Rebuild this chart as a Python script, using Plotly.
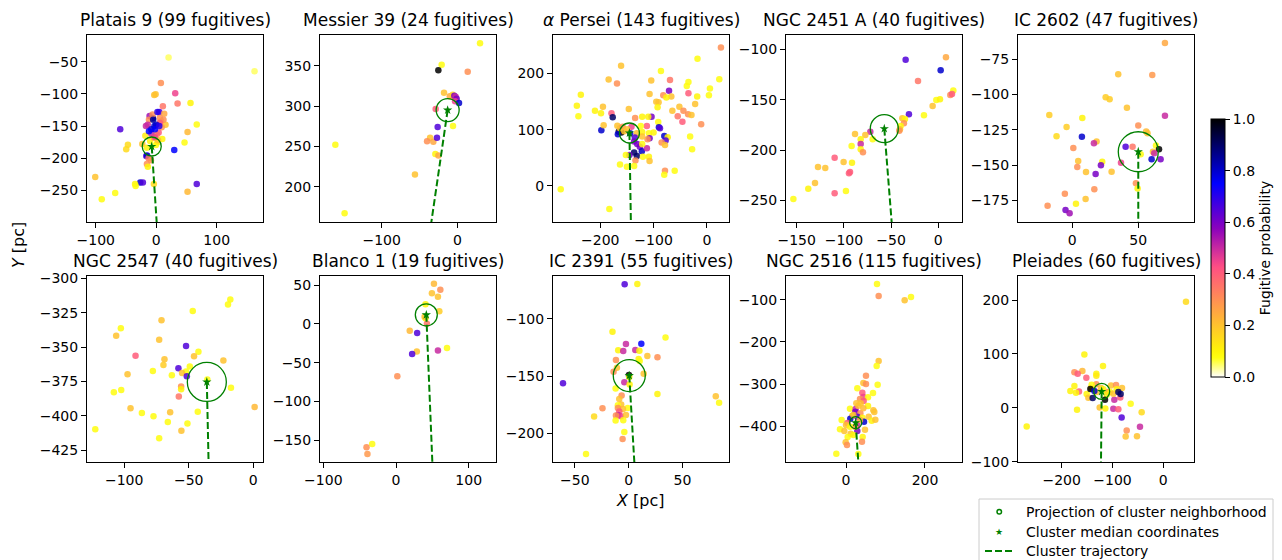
import numpy as np
import plotly.graph_objects as go

# ---------------- data ----------------
CLUSTERS = ["Platais 9", "Messier 39", "<i>α</i> Persei", "NGC 2451 A", "IC 2602",
            "NGC 2547", "Blanco 1", "IC 2391", "NGC 2516", "Pleiades"]
N_FUGITIVES = [99, 24, 143, 40, 47, 40, 19, 55, 115, 60]
MEDIAN_X = [-7.4, -12.8, -145.3, -57.2, 50.0, -36.0, 41.7, 0.6, 24.5, -121.3]
MEDIAN_Y = [-181.7, 295.0, 94.0, -178.8, -140.6, -375.3, 11.6, -149.5, -392.0, 30.3]
TRAJ_END_X = [1.5, -35.3, -142.5, -48.7, 50.0, -34.5, 50.3, 5.6, 31.5, -122.7]
TRAJ_END_Y = [-310, 150, -70, -280, -200, -440, -185, -230, -490, -105]
X_RANGES = [(-114.4, 176.5), (-181.5, 51.1), (-288.7, 41.5), (-161.3, 25.1), (-41.1, 92.2),
            (-128.8, 7.5), (-104.6, 137.6), (-70.3, 93.3), (-151.9, 293.7), (-286.0, 60.4)]
Y_RANGES = [(-299.0, -8.5), (156.3, 388.0), (-64.0, 268.0), (-271.5, -85.8), (-190.4, -57.8),
            (-433.5, -298.3), (-178.0, 61.6), (-225.1, -62.4), (-485.7, -42.9), (-100.6, 244.6)]
X_DTICK = [100, 100, 100, 50, 50, 50, 100, 50, 200, 100]
Y_DTICK = [50, 50, 100, 50, 25, 25, 50, 50, 100, 100]

# fugitives: (x, y, probability)
PLATAIS9 = [
    (20.4, -43.3, 0.05), (162.5, -65, 0.05), (7.7, -83, 0.3), (31.4, -99, 0.45), (-3.3, -101.8, 0.2),
    (-1, -100.5, 0.2), (35.3, -115, 0.35), (56.7, -114, 0.1), (11, -119, 0.35), (5, -128, 0.65),
    (13.2, -131, 0.25), (-11, -134.5, 0.55), (-5.5, -138, 0.85), (-59.5, -155, 0.65), (-17, -150, 0.5),
    (15.4, -148, 0.2), (67, -147.4, 0.08), (51.8, -159.3, 0.22), (46.8, -175.4, 0.08), (-46.8, -179, 0.15),
    (-49.6, -186, 0.15), (29.8, -187.3, 0.75), (-23, -178, 0.2), (-15.4, -183.7, 0.1), (-0.5, -179.5, 0.08),
    (-16.5, -196.6, 0.65), (-15, -195.6, 0.8), (-12.7, -200, 0.35), (-8.8, -203, 0.3), (-15.4, -209, 0.3),
    (-13.8, -213, 0.1), (-100.8, -229, 0.2), (-26.4, -237.6, 0.8), (-22, -237.6, 0.65), (-3.9, -240, 0.15),
    (-35, -240, 0.1), (-34, -243, 0.08), (-67.8, -254, 0.08), (-90, -263.5, 0.08), (51.8, -252, 0.22),
    (67, -240, 0.65), (-10, -173, 0.1), (2, -175, 0.1), (-18, -165, 0.12), (10, -170, 0.1),
    (6, -137, 0.3), (9, -152, 0.28), (-4, -168, 0.25), (3, -172, 0.2), (-12, -140, 0.3),
    (8, -142, 0.25), (-6, -132, 0.3), (1, -163, 0.25), (12, -140, 0.3), (-14, -148, 0.5),
    (-8, -162, 0.5), (-2, -167, 0.45), (4, -160, 0.4), (6, -145, 0.4), (-5, -140, 0.85),
    (-3, -150, 0.8), (-8, -155, 0.8), (0, -148, 0.8), (2, -128, 0.7), (-12, -158, 0.75),
    (-2, -155, 0.75), (5, -150, 0.7),
]
MESSIER39 = [
    (30, 377.7, 0.08), (-20.7, 351.2, 0.08), (-25.1, 344.2, 1.0), (13.7, 342.6, 0.3), (-17.6, 316.5, 0.2),
    (-5.3, 311.6, 0.2), (-10, 312, 0.25), (-6, 314, 0.15), (-4, 312.8, 0.6), (-2.2, 311.6, 0.5),
    (-0.9, 309, 0.6), (-3, 306, 0.45), (2.2, 303.7, 0.8), (-28.6, 296.3, 0.4), (-5.7, 275.2, 0.08),
    (-26, 274, 0.65), (-36, 260.7, 0.2), (-31.7, 255.8, 0.25), (-40, 256.2, 0.3), (-26.9, 260.7, 0.65),
    (-29, 240.5, 0.1), (-25, 238.8, 0.25), (-56, 215, 0.2), (-161.2, 252, 0.08), (-149, 167, 0.08),
]
ALPHA_PERSEI = [
    (26.4, 246, 0.3), (-17.6, 226, 0.08), (-161, 213.6, 0.2), (-86.2, 204, 0.08), (-184.3, 188.8, 0.2),
    (-168.6, 181.7, 0.3), (-104.4, 187, 0.2), (-69.2, 188, 0.35), (-34.6, 184.6, 0.08), (23.3, 189.3, 0.08),
    (-236.5, 162, 0.1), (5.7, 172.8, 0.08), (-37.7, 177.5, 0.08), (-71, 169, 0.6), (-81.8, 161, 0.3),
    (-66.7, 158.6, 0.2), (-76, 157, 0.1), (-107.5, 163.3, 0.2), (-94.9, 149.7, 0.2), (-90.6, 148.5, 0.2),
    (-92.5, 139.6, 0.1), (-34.6, 164.5, 0.4), (-18.2, 158.6, 0.1), (3.8, 161, 0.08), (-22, 145.6, 0.2),
    (-51.6, 140.8, 0.2), (-64.8, 133.7, 0.2), (-44, 133.7, 0.3), (-35.2, 127.2, 0.3), (-28.9, 126, 0.2),
    (-54.7, 123.7, 0.35), (-45.9, 114.2, 0.4), (-10.7, 109.5, 0.3), (-244, 142.6, 0.1), (-241, 123.7, 0.08),
    (-210, 133.7, 0.1), (-195, 140.8, 0.2), (-198.7, 129, 0.1), (-179, 129, 0.4), (-176.7, 121.9, 0.9),
    (-198, 98.8, 0.8), (-193.7, 107.7, 0.2), (-168, 107, 0.2), (-146.5, 136.7, 0.2), (-134.6, 120.7, 0.3),
    (-121.4, 123, 0.1), (-103.8, 123, 0.6), (-110, 123, 0.1), (-91.2, 113.6, 0.08), (-90, 104, 0.8),
    (-112.6, 106.5, 0.4), (-88, 102.4, 0.65), (-165.4, 96.4, 0.95), (-160.4, 94.7, 1.0), (-167, 91.7, 0.8),
    (-144, 93.5, 0.8), (-131.4, 93.5, 0.2), (-121.4, 95.9, 0.1), (-108.8, 93.5, 0.08), (-100, 94.7, 0.1),
    (-79.9, 88.8, 0.8), (-73.6, 86.4, 0.1), (-77.4, 80.5, 0.65), (-84.9, 77, 0.3), (-78.6, 72.8, 0.2),
    (-107.5, 84.6, 0.6), (-111.3, 82.8, 0.3), (-121.4, 87.6, 0.2), (-135.2, 85.8, 0.65), (-136.5, 78.7, 0.6),
    (-130.8, 74.6, 0.6), (-125.8, 69.8, 0.6), (-122, 61.5, 0.8), (-136.5, 59.2, 0.9), (-131.4, 53.3, 0.9),
    (-145.3, 55, 0.6), (-112.6, 66.9, 0.5), (-108.8, 52, 0.1), (-120, 52, 0.08), (-121.4, 74.6, 0.08),
    (-152, 55, 0.08), (-107.5, 44.4, 0.2), (-134, 45, 0.3), (-136.5, 35.5, 0.08), (-163, 37.9, 0.08),
    (-150, 34.3, 0.08), (-78.6, 27.2, 0.3), (-60.4, 27.2, 0.08), (-80, 20, 0.08), (-27.7, 65, 0.08),
    (-31.4, 87.6, 0.08), (-274.2, -6, 0.08), (-183, -40.8, 0.08), (-163, 102.4, 0.2), (-158, 105.3, 0.3),
    (-155, 97, 0.2), (-141.5, 105.3, 0.45), (-149.7, 100.6, 0.2), (-124, 106.5, 0.08),
]
NGC2451A = [
    (-34.6, -110.3, 0.65), (8.1, -108, 0.25), (2.5, -120.9, 0.8), (-21.5, -131.5, 0.35), (15.9, -141, 0.08),
    (12.7, -145.4, 0.3), (14.5, -144.4, 0.4), (-2.1, -150.3, 0.08), (1.8, -149.7, 0.1), (-6, -156.3, 0.2),
    (-15.2, -165.6, 0.08), (-31.1, -164.6, 0.65), (-38.1, -168.5, 0.2), (-35.3, -169.2, 0.1), (-36.4, -173.5, 0.3),
    (-39.9, -176.2, 0.08), (-40.6, -179.5, 0.2), (-41.3, -180.8, 0.3), (-72, -182, 0.5), (-77.3, -185, 0.2),
    (-88.2, -184.1, 0.2), (-82.2, -189.4, 0.1), (-69.5, -189.4, 0.08), (-82.2, -194, 0.5), (-91.8, -196, 0.08),
    (-82.2, -199.3, 0.1), (-79.8, -202.3, 0.3), (-109.8, -207.6, 0.4), (-100.3, -211.9, 0.2), (-91.4, -212.6, 0.1),
    (-127.4, -216.9, 0.2), (-119.7, -217.9, 0.2), (-93.5, -221.9, 0.4), (-94.6, -223.2, 0.4), (-130.6, -232.8, 0.2),
    (-137.7, -238.4, 0.1), (-109.8, -243, 0.4), (-97.8, -240.7, 0.08), (-153.5, -248.7, 0.08),
]
IC2602 = [
    (70.2, -63.4, 0.25), (34.8, -85.6, 0.2), (60.6, -86.1, 0.28), (25.3, -102, 0.18), (28.3, -103.4, 0.18),
    (41.4, -109.3, 0.2), (-17.4, -114.5, 0.18), (70.2, -115, 0.5), (7.6, -116.6, 0.1), (-4.3, -123, 0.18),
    (50, -122, 0.3), (56, -126.3, 0.22), (57, -127.5, 0.2), (-11.9, -129.6, 0.15), (7.3, -130, 0.8),
    (18.4, -133.4, 0.2), (16.4, -134.6, 0.5), (0.8, -137.9, 0.3), (40.4, -137, 0.65), (45.7, -137, 0.35),
    (63.4, -136.2, 0.08), (65.7, -138.8, 1.0), (61.1, -140.5, 0.2), (62.1, -141.7, 0.5), (51.8, -142.4, 0.08),
    (60.1, -145.9, 0.8), (66.9, -145.9, 0.6), (4.5, -147.1, 0.2), (22.7, -147.6, 0.1), (36.9, -148.3, 0.45),
    (21.7, -150.2, 0.6), (3.8, -151.4, 0.3), (10.4, -154.9, 0.2), (29.8, -154.7, 0.2), (17.7, -156.3, 0.6),
    (48.2, -162.9, 0.3), (49.5, -166.7, 0.1), (16.7, -167.2, 0.3), (-5.6, -170.3, 0.3), (10.1, -174.1, 0.2),
    (2.8, -177.4, 0.1), (-18.7, -178.8, 0.3), (-5.1, -181.9, 0.6), (-2, -184.2, 0.55),
]
NGC2547 = [
    (-17.8, -315.3, 0.08), (-19.6, -319.1, 0.08), (-46.9, -323.7, 0.08), (-71.1, -330.5, 0.2), (-102.6, -336.3, 0.08),
    (-106.2, -341.7, 0.2), (-72.9, -344.6, 0.2), (-52.1, -349.2, 0.65), (-42.5, -353.3, 0.08), (-91.2, -356.2, 0.4),
    (-45.9, -356.7, 0.2), (-68.8, -358.9, 0.2), (-23.2, -359.8, 0.2), (-69.6, -363, 0.18), (-58, -365.4, 0.65),
    (-49.2, -364, 0.08), (-52.1, -367.8, 0.08), (-77.8, -367.3, 0.08), (-55.2, -368.8, 0.2), (-97.4, -369.8, 0.2),
    (-63.1, -370.5, 0.08), (-51.5, -371.2, 0.65), (-35.6, -373.6, 0.08), (-55.9, -378.7, 0.3), (-55.9, -380.7, 0.1),
    (-17.3, -379.5, 0.08), (-108, -382.8, 0.08), (-102.3, -381.2, 0.08), (-57.7, -385.8, 0.35), (-95.1, -394.5, 0.2),
    (1, -393.5, 0.22), (-86.3, -397.9, 0.08), (-43, -396.9, 0.08), (-64.4, -397.4, 0.2), (-77.3, -400.3, 0.08),
    (-66.2, -404.4, 0.08), (-51, -405.6, 0.08), (-55.7, -410.7, 0.2), (-122.4, -409.7, 0.08), (-72.9, -416.3, 0.08),
]
BLANCO1 = [
    (52.2, 51.7, 0.22), (61, 44, 0.3), (49.4, 39.3, 0.2), (57.7, 35, 0.2), (40.6, 25.1, 0.1),
    (59.6, 16.1, 0.18), (40.6, 7.1, 0.1), (39.3, 9.2, 0.2), (42.5, 0.2, 0.35), (18.9, -8.8, 0.22),
    (29.1, -11.8, 0.65), (28.6, -35.8, 0.2), (22.2, -38.8, 0.65), (57.7, -34.5, 0.5), (70.2, -31.1, 0.08),
    (1.8, -67.6, 0.3), (-32.8, -154.7, 0.08), (-40.6, -159, 0.3), (-39.3, -167.6, 0.28),
]
IC2391 = [
    (-3.7, -69.7, 0.65), (8.1, -69.4, 0.1), (-15, -111.1, 0.1), (34.3, -116.3, 0.08), (-2.5, -121.9, 0.5),
    (11.8, -121.6, 0.75), (-9.7, -127.4, 0.1), (-5, -128, 0.5), (6.2, -127.1, 0.5), (10, -127.7, 0.1),
    (17.4, -132.4, 0.2), (26.8, -133.5, 0.3), (9.3, -135, 0.1), (-11.8, -135.9, 0.3), (10.3, -136.7, 0.08),
    (-10.9, -142.6, 0.2), (-14, -146.1, 0.3), (14, -147.8, 0.2), (0.3, -149, 1.0), (0.6, -150.7, 0.1),
    (-4, -155.4, 0.5), (0.9, -157.4, 0.1), (-61, -156.3, 0.65), (-12.1, -160.9, 0.08), (-6.5, -167, 0.3),
    (26.8, -165.6, 0.1), (-8.7, -170, 0.2), (-6.9, -174.9, 0.2), (-10, -175.5, 0.08), (-0.9, -177.8, 0.08),
    (-5.3, -178.7, 0.2), (-10, -177.8, 0.3), (-24.3, -178.1, 0.3), (-8.7, -181, 0.4), (-9.7, -184, 0.5),
    (-7.2, -185.1, 0.45), (-2.5, -184, 0.2), (-11.8, -184.5, 0.3), (-32.1, -185.4, 0.15), (-5, -188.6, 0.08),
    (-12.1, -188.9, 0.08), (-4, -198.8, 0.08), (-5.6, -205, 0.3), (81, -167.6, 0.2), (84.1, -173.2, 0.08),
    (-39.6, -218.1, 0.08),
]
NGC2516 = [
    (78.5, -61.9, 0.08), (82.7, -90.5, 0.3), (148.5, -100.8, 0.2), (164.6, -92.9, 0.08), (82.7, -245.2, 0.2),
    (77.6, -257.1, 0.08), (50.6, -280.2, 0.3), (43.9, -297.6, 0.2), (50.6, -300, 0.3), (80.2, -301.6, 0.08),
    (28.7, -310.3, 0.08), (41.4, -320.6, 0.4), (68.4, -321.4, 0.08), (43.9, -331, 0.45), (55.7, -331.7, 0.08),
    (35.4, -335.7, 0.3), (44.7, -340.5, 0.4), (26.2, -346, 0.2), (55.7, -352.4, 0.1), (10.1, -358.7, 0.08),
    (24.5, -359.5, 0.5), (69.2, -362.7, 0.2), (71.7, -366.7, 0.2), (23.6, -365.9, 0.6), (36.3, -369.8, 0.3),
    (16, -375.4, 0.2), (28.7, -377.8, 0.65), (10.9, -382.5, 0.8), (41.4, -380.2, 0.1), (57.4, -377.8, 0.2),
    (-11, -385.7, 0.08), (65, -387.3, 0.1), (74.3, -384.9, 0.2), (45.6, -389.7, 0.8), (3.4, -392.9, 0.4),
    (28.7, -397.6, 0.5), (0, -397.6, 0.2), (-15.2, -407.9, 0.08), (-4.2, -411.9, 0.2), (28.7, -411.9, 0.6),
    (48.1, -408.7, 0.2), (11.8, -418.3, 0.2), (4.2, -426.2, 0.08), (42.2, -426.2, 0.1), (40.5, -437.3, 0.3),
    (-0.8, -438.9, 0.2), (2.5, -445.2, 0.3), (-24.5, -465.9, 0.08), (31.2, -466.7, 0.08), (18.6, -373.8, 0.2),
    (35.4, -385.7, 0.25), (22.8, -401.6, 0.3), (10.1, -401.6, 0.1), (43.9, -357.9, 0.22), (31.2, -351.6, 0.2),
    (18.6, -421.4, 0.1), (37.1, -346, 0.2),
]
PLEIADES = [
    (44.6, 196.9, 0.15), (-155.4, 98.8, 0.1), (-118.7, 77.6, 0.1), (-175, 65.8, 0.3), (-159.3, 68.3, 0.22),
    (-168.5, 63.4, 0.4), (-131.8, 63.4, 0.1), (-131.8, 59.6, 0.12), (-151.5, 55.9, 0.4), (-175, 40.4, 0.1),
    (-182.9, 31.1, 0.1), (-165.9, 30.4, 0.4), (-171.8, 28, 0.1), (-131.8, 43.5, 0.3), (-150.8, 25.5, 0.1),
    (-147.5, 18.6, 0.2), (-122.6, 36.6, 0.2), (-110.2, 29.2, 0.4), (-103, 41.6, 0.2), (-93, 42.2, 0.3),
    (-81.3, 36.6, 0.2), (-84.6, 19.3, 0.4), (-96.4, 14.9, 0.5), (-98.4, -1.9, 0.5), (-88.5, -2.5, 0.4),
    (-125.2, 0.6, 0.2), (-114.1, -1.2, 0.1), (-169.8, -3.7, 0.1), (-64.3, 7.5, 0.08), (-42.6, -8.1, 0.15),
    (-82, -18, 0.65), (-72.1, -42.2, 0.3), (-45.9, -35.4, 0.5), (-74.1, -53.4, 0.2), (-51.8, -52.8, 0.2),
    (-268.9, -34.8, 0.1), (-104.9, 29.2, 0.1), (-98.4, 26.1, 0.2), (-111.5, 24.2, 0.1), (-131.1, 29.2, 0.2),
    (-118, 34.2, 0.1), (-142.3, 36.6, 0.2), (-141, 42.9, 0.08), (-91.8, 34.2, 0.1),
    (-143.6, 34.8, 1.0), (-135.7, 31.1, 0.8), (-139, 18, 0.9), (-114.8, 14.9, 1.0), (-88.5, 29.2, 0.9),
    (-84, 25.5, 0.9),
]
CLUSTER_POINTS = [PLATAIS9, MESSIER39, ALPHA_PERSEI, NGC2451A, IC2602,
                  NGC2547, BLANCO1, IC2391, NGC2516, PLEIADES]
LEGEND_LABELS = ["Projection of cluster neighborhood", "Cluster median coordinates", "Cluster trajectory"]

# ---------------- styling ----------------
CIRCLE_PX = [19, 23, 20, 28, 40, 39, 22, 32, 12, 16]
W, H = 1282, 560
COL_LEFT = [87, 320, 553, 786, 1018]
AX_W = 176
ROW_TOP = [35, 276]
ROW_BOT = [222, 462]
FONT = "DejaVu Sans"
DASH = "7px,3px"


def gnuplot2(t):
    r = np.clip(t / 0.32 - 0.78125, 0, 1)
    g = np.clip(2 * t - 0.84, 0, 1)
    b = np.interp(t, [0, 0.25, 0.92, 1], [0, 1, 0, 1])
    return r, g, b


colorscale = []
for v in np.linspace(0, 1, 41):
    r, g, b = gnuplot2(1 - v)
    colorscale.append([float(v), f"rgb({int(round(r*255))},{int(round(g*255))},{int(round(b*255))})"])


def px(xp):
    return xp / W


def py(yp):
    return 1 - yp / H


fig = go.Figure()
layout = dict(
    width=W, height=H, margin=dict(l=0, r=0, t=0, b=0, autoexpand=False),
    paper_bgcolor="white", plot_bgcolor="white",
    font=dict(family=FONT, size=14, color="black"),
    showlegend=False,
    coloraxis=dict(
        cmin=0, cmax=1, colorscale=colorscale,
        colorbar=dict(
            x=px(1211), xanchor="left", xref="paper",
            y=py(119), yanchor="top", yref="paper",
            thickness=14, thicknessmode="pixels",
            len=258, lenmode="pixels", xpad=0, ypad=0,
            outlinewidth=1, outlinecolor="black",
            ticks="outside", ticklen=5, tickcolor="black",
            tickvals=[0, 0.2, 0.4, 0.6, 0.8, 1.0],
            ticktext=["0.0", "0.2", "0.4", "0.6", "0.8", "1.0"],
            tickfont=dict(size=14),
            title=dict(text="Fugitive probability", side="right", font=dict(size=14)),
        ),
    ),
)
annotations = []
shapes = []

for i in range(10):
    row, col = divmod(i, 5)
    n = i + 1
    xa = "x" if n == 1 else f"x{n}"
    ya = "y" if n == 1 else f"y{n}"
    xd = [px(COL_LEFT[col]), px(COL_LEFT[col] + AX_W)]
    yd = [py(ROW_BOT[row]), py(ROW_TOP[row])]
    common = dict(showline=True, linecolor="black", linewidth=1, mirror=True,
                  ticks="outside", ticklen=5, tickcolor="black", showgrid=False,
                  zeroline=False, tickfont=dict(size=14), tickmode="linear")
    layout[f"xaxis{'' if n == 1 else n}"] = dict(domain=xd, anchor=ya, range=list(X_RANGES[i]),
                                                 dtick=X_DTICK[i], tick0=0, **common)
    layout[f"yaxis{'' if n == 1 else n}"] = dict(domain=yd, anchor=xa, range=list(Y_RANGES[i]),
                                                 dtick=Y_DTICK[i], tick0=0, **common)
    pts = CLUSTER_POINTS[i]
    fig.add_trace(go.Scatter(
        x=[p[0] for p in pts], y=[p[1] for p in pts], mode="markers",
        marker=dict(color=[p[2] for p in pts], coloraxis="coloraxis", size=6.5,
                    opacity=0.85, line=dict(width=0)),
        xaxis=xa, yaxis=ya, showlegend=False, hoverinfo="skip"))
    fig.add_trace(go.Scatter(
        x=[MEDIAN_X[i], TRAJ_END_X[i]], y=[MEDIAN_Y[i], TRAJ_END_Y[i]], mode="lines",
        line=dict(color="green", width=2, dash=DASH),
        xaxis=xa, yaxis=ya, showlegend=False, hoverinfo="skip"))
    fig.add_trace(go.Scatter(
        x=[MEDIAN_X[i]], y=[MEDIAN_Y[i]], mode="markers",
        marker=dict(symbol="circle-open", size=CIRCLE_PX[i], color="green", line=dict(width=1.3)),
        xaxis=xa, yaxis=ya, showlegend=False, hoverinfo="skip"))
    fig.add_trace(go.Scatter(
        x=[MEDIAN_X[i]], y=[MEDIAN_Y[i]], mode="markers",
        marker=dict(symbol="star", size=7, color="green", line=dict(width=0)),
        xaxis=xa, yaxis=ya, showlegend=False, hoverinfo="skip"))
    annotations.append(dict(
        text=f"{CLUSTERS[i]} ({N_FUGITIVES[i]} fugitives)",
        x=(xd[0] + xd[1]) / 2, y=yd[1], xref="paper", yref="paper",
        xanchor="center", yanchor="bottom", yshift=3, showarrow=False,
        font=dict(size=17)))

# ---- legend (drawn by hand so it can run off the bottom edge like the original) ----
shapes.append(dict(type="rect", xref="paper", yref="paper",
                   x0=px(979), x1=px(1273), y0=py(575), y1=py(499),
                   line=dict(color="#cccccc", width=1), fillcolor="white", layer="above"))
row_y = [511.7, 531.5, 551.0]
shapes.append(dict(type="circle", xref="paper", yref="paper",
                   x0=px(997), x1=px(1001.5), y0=py(row_y[0] + 2.25), y1=py(row_y[0] - 2.25),
                   line=dict(color="green", width=1.5), layer="above"))
shapes.append(dict(type="line", xref="paper", yref="paper",
                   x0=px(985), x1=px(1013), y0=py(row_y[2]), y1=py(row_y[2]),
                   line=dict(color="green", width=2, dash=DASH), layer="above"))
annotations.append(dict(text="★", x=px(999), y=py(row_y[1]), xref="paper", yref="paper",
                        xanchor="center", yanchor="middle", showarrow=False,
                        font=dict(size=9, color="green")))
for lbl, yy in zip(LEGEND_LABELS, row_y):
    annotations.append(dict(text=lbl, x=px(1024), y=py(yy), xref="paper", yref="paper",
                            xanchor="left", yanchor="middle", showarrow=False,
                            font=dict(size=14)))

annotations.append(dict(text="<i>X</i> [pc]", x=px(640), y=py(500), xref="paper", yref="paper",
                        xanchor="center", yanchor="middle", showarrow=False, font=dict(size=16)))
annotations.append(dict(text="<i>Y</i> [pc]", x=px(18), y=py(245), xref="paper", yref="paper",
                        xanchor="center", yanchor="middle", showarrow=False, textangle=-90,
                        font=dict(size=16)))
layout["annotations"] = annotations
layout["shapes"] = shapes
fig.update_layout(**layout)
fig.write_html("out.html")
